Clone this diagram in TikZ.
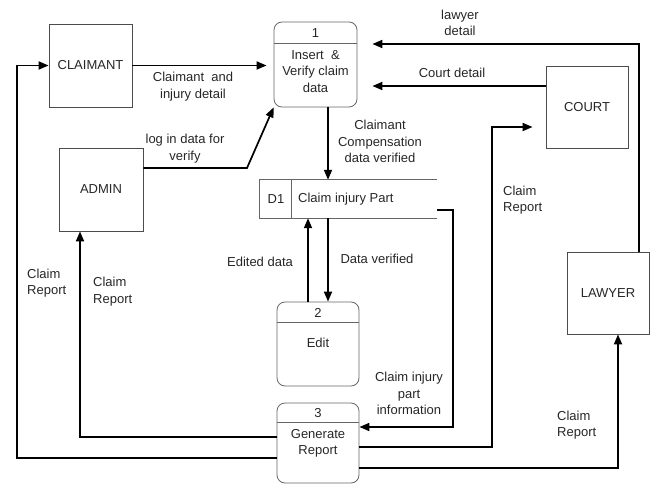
\documentclass[tikz,border=0pt]{standalone}
\usepackage{fontspec}
\setmainfont{Liberation Sans}
\usetikzlibrary{arrows.meta}
\begin{document}
\begin{tikzpicture}[x=1pt,y=-1pt,
  every node/.style={font=\fontsize{13}{16.5}\selectfont, text=black!85},
  ent/.style={draw=black!70, line width=0.8pt, inner sep=0pt},
  proc/.style={draw=black!60, line width=0.8pt, rounded corners=8pt, inner sep=0pt},
  thinline/.style={draw=black!60, line width=0.8pt},
  arr/.style={line width=1.7pt, -{Triangle[length=10pt,width=8pt]}},
  lbl/.style={align=center, inner sep=0pt},
  lblL/.style={align=left, inner sep=0pt, anchor=west}]
\useasboundingbox (0,0) rectangle (653,484);

% external entities
\node[ent, minimum width=83pt, minimum height=83pt] (claimant) at (90.5,65.5) {CLAIMANT};
\node[ent, minimum width=84pt, minimum height=83pt] (admin) at (101,189.5) {ADMIN};
\node[ent, minimum width=82pt, minimum height=82pt] (court) at (587,107) {COURT};
\node[ent, minimum width=82pt, minimum height=82pt] (lawyer) at (608,293) {LAWYER};

% processes
\node[proc, minimum width=83pt, minimum height=85pt] (p1) at (315.5,64.5) {};
\draw[thinline] (p1.north west) ++(0,22) -- ++(83,0);
\node (p1n) at (315.5,33) {1};
\node[lbl] (p1t) at (315.5,71.5) {Insert \ \&\\Verify claim\\data};

\node[proc, minimum width=82pt, minimum height=84pt] (p2) at (318,344) {};
\draw[thinline] (p2.north west) ++(0,21) -- ++(82,0);
\node (p2n) at (318,313) {2};
\node (p2t) at (318,343) {Edit};

\node[proc, minimum width=82pt, minimum height=80pt] (p3) at (318,443) {};
\draw[thinline] (p3.north west) ++(0,20) -- ++(82,0);
\node (p3n) at (318,413) {3};
\node[lbl] (p3t) at (318,443.5) {Generate\\Report};

% data store
\node[minimum width=177pt, minimum height=38pt, inner sep=0pt] (d1) at (348.5,199) {};
\draw[thinline] (d1.north east) -- (d1.north west) -- (d1.south west) -- (d1.south east);
\draw[thinline] (d1.north west) ++(32,0) -- ++(0,38);
\node (d1id) at (276,199) {D1};
\node[anchor=west, inner sep=0pt] (d1t) at (298,199) {Claim injury Part};

% flows
\draw[arr, shorten >=7pt] (claimant.east) -- (claimant.east -| p1.west);
\draw[arr] (admin.east |- 0,168) -- (247,168) -- (p1.south west);
\draw[arr] (p1.south -| 328,0) -- (d1.north -| 328,0);
\draw[arr] (p2.north -| 308,0) -- (d1.south -| 308,0);
\draw[arr] (d1.south -| 328,0) -- (p2.north -| 328,0);
\draw[arr] (d1.east |- 0,210) -- (453,210) -- (453,427) -- (p3.east |- 0,427);
\draw[arr] (p3.west |- 0,437) -- (80,437) -- (admin.south -| 80,0);
\draw[arr] (p3.west |- 0,458) -- (17,458) -- (17,65.5) -- (claimant.west);
\draw[arr, shorten >=13pt] (p3.east |- 0,447) -- (492,447) -- (492,127) -- (court.west |- 0,127);
\draw[arr] (p3.east |- 0,468) -- (618,468) -- (lawyer.south -| 618,0);
\draw[arr, shorten >=15pt] (court.west |- 0,86) -- (p1.east |- 0,86);
\draw[arr, shorten >=15pt] (lawyer.north -| 639,0) -- (639,44) -- (p1.east |- 0,44);

% labels
\node[lbl] (l1) at (193,86.5) {Claimant \ and\\injury detail};
\node[lbl] (l2) at (185,148.5) {log in data for\\verify};
\node[lbl] (l3) at (380,141.5) {Claimant\\Compensation\\data verified};
\node[lbl] (l4) at (460,23) {lawyer\\detail};
\node[lbl] (l5) at (452,73) {Court detail};
\node[lblL] (l6) at (503,200) {Claim\\Report};
\node[lblL] (l7) at (27,283) {Claim\\Report};
\node[lblL] (l8) at (93,291.5) {Claim\\Report};
\node[lblL] (l9) at (557,425) {Claim\\Report};
\node[lbl] (l10) at (260,262) {Edited data};
\node[lbl] (l11) at (377,259) {Data verified};
\node[lbl] (l12) at (409,393.5) {Claim injury\\part\\information};
\end{tikzpicture}
\end{document}
